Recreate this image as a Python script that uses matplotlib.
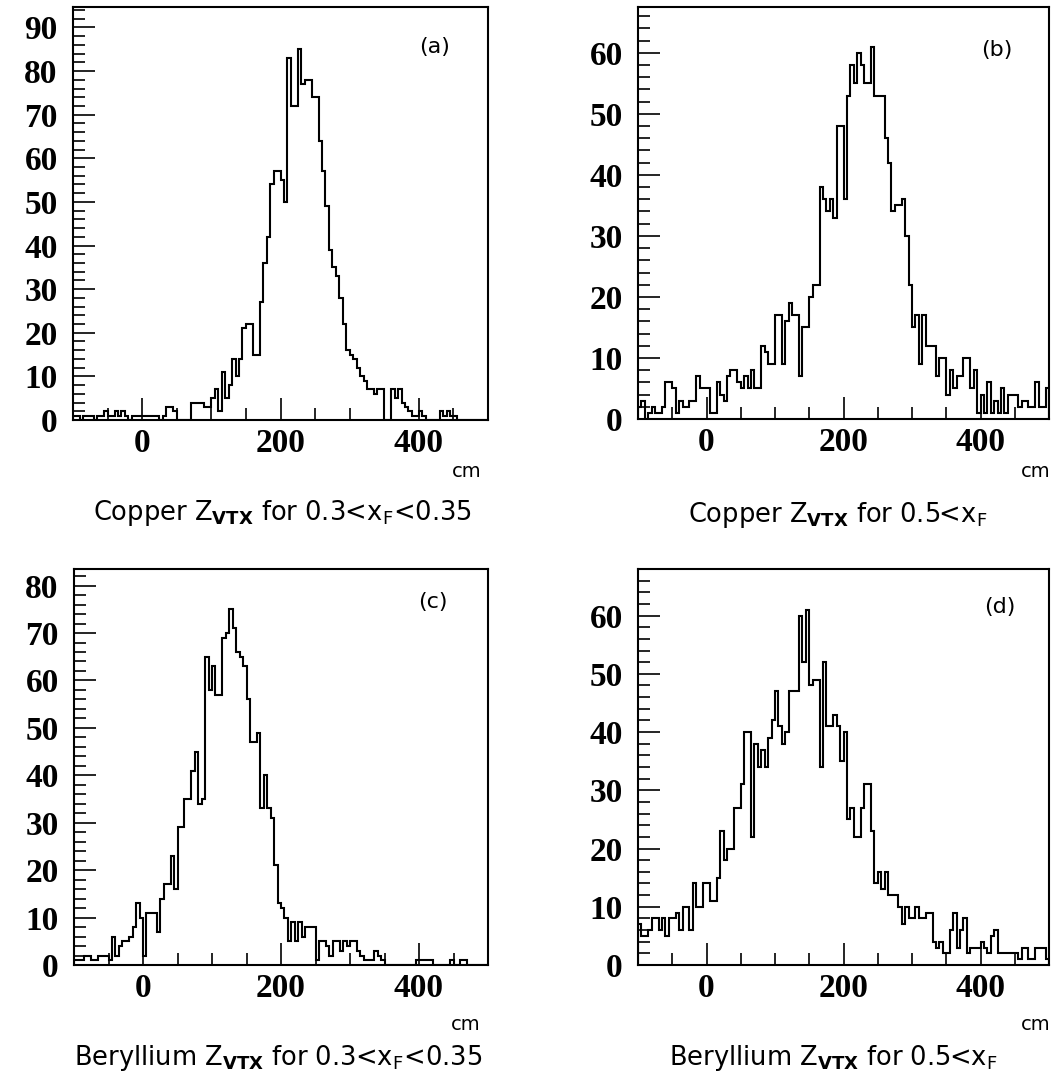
import numpy as np
import matplotlib.pyplot as plt
from matplotlib.ticker import MultipleLocator

plt.rcParams['font.family'] = 'DejaVu Sans'
plt.rcParams['mathtext.fontset'] = 'dejavusans'

# 5 cm bins from -100 to 500 cm
edges = np.arange(-100, 505, 5)

# (a) Copper, 0.3 < xF < 0.35
copper_low = [
    1, 1, 0, 1, 1, 1, 0, 1, 1, 2,
    1, 1, 2, 1, 2, 1, 0, 1, 1, 1,
    1, 1, 1, 1, 1, 0, 1, 3, 3, 2,
    0, 0, 0, 0, 4, 4, 4, 4, 3, 3,
    5, 7, 2, 11, 5, 8, 14, 10, 14, 21,
    22, 22, 15, 15, 27, 36, 42, 54, 57, 57,
    55, 50, 83, 72, 72, 85, 77, 78, 78, 74,
    74, 64, 57, 49, 39, 35, 33, 28, 22, 16,
    15, 14, 12, 10, 9, 7, 7, 6, 7, 7,
    0, 0, 7, 5, 7, 4, 3, 2, 1, 1,
    2, 1, 0, 0, 0, 0, 2, 1, 2, 1,
    1, 0, 0, 0, 0, 0, 0, 0, 0, 0,
]

# (b) Copper, 0.5 < xF
copper_high = [
    2, 3, 0, 1, 2, 1, 1, 2, 6, 6,
    5, 1, 3, 2, 2, 3, 3, 7, 5, 5,
    5, 1, 1, 6, 4, 3, 7, 8, 8, 6,
    5, 7, 5, 8, 5, 5, 12, 11, 9, 9,
    17, 17, 9, 16, 19, 17, 17, 7, 15, 15,
    20, 22, 22, 38, 36, 34, 36, 33, 48, 48,
    36, 53, 58, 55, 60, 58, 55, 55, 61, 53,
    53, 53, 46, 42, 34, 35, 35, 36, 30, 22,
    15, 17, 9, 17, 12, 12, 12, 7, 10, 10,
    4, 8, 5, 7, 7, 10, 10, 5, 8, 1,
    4, 1, 6, 1, 3, 1, 5, 1, 4, 4,
    4, 2, 3, 3, 2, 2, 6, 2, 2, 5,
]

# (c) Beryllium, 0.3 < xF < 0.35
beryl_low = [
    1, 1, 1, 2, 2, 1, 1, 2, 2, 2,
    1, 6, 2, 4, 5, 5, 6, 8, 13, 10,
    2, 11, 11, 11, 7, 14, 17, 17, 23, 16,
    29, 29, 35, 35, 41, 45, 34, 35, 65, 58,
    63, 57, 57, 69, 70, 75, 71, 66, 65, 63,
    56, 47, 47, 49, 33, 40, 33, 31, 21, 13,
    12, 10, 5, 9, 5, 9, 6, 8, 8, 8,
    1, 5, 5, 4, 2, 5, 5, 3, 5, 4,
    5, 5, 3, 2, 1, 1, 1, 3, 2, 1,
    0, 0, 0, 0, 0, 0, 0, 0, 0, 1,
    1, 1, 1, 1, 0, 0, 0, 0, 0, 1,
    0, 0, 1, 1, 0, 0, 0, 0, 0, 0,
]

# (d) Beryllium, 0.5 < xF
beryl_high = [
    7, 5, 5, 6, 8, 8, 6, 8, 5, 8,
    8, 9, 6, 10, 10, 6, 14, 10, 10, 14,
    14, 11, 11, 15, 23, 18, 20, 20, 27, 27,
    31, 40, 40, 22, 38, 34, 37, 34, 39, 42,
    47, 41, 38, 40, 47, 47, 47, 60, 52, 61,
    48, 49, 49, 34, 52, 41, 41, 43, 41, 35,
    40, 25, 27, 22, 22, 27, 31, 31, 23, 14,
    16, 13, 16, 12, 12, 12, 10, 7, 10, 8,
    8, 10, 8, 8, 9, 9, 4, 3, 4, 2,
    2, 6, 9, 3, 6, 8, 2, 3, 3, 3,
    4, 3, 2, 5, 6, 2, 2, 2, 2, 2,
    2, 1, 3, 3, 1, 1, 3, 3, 3, 1,
]

x_ticks = [0, 200, 400]

W, H = 1052, 1082
fig = plt.figure(figsize=(W / 100, H / 100), dpi=100)


def px_axes(l, t, r, b):
    return fig.add_axes([l / W, 1 - b / H, (r - l) / W, (b - t) / H])


panels = [
    # values, ymax, box (l, t, r, b), letter pos, title, title pos, cm pos
    (copper_low, 94.7, (73, 7, 488, 420), (435, 47),
     r'Copper Z$_{\mathbf{VTX}}$ for 0.3<x$_{\mathrm{F}}$<0.35', (282, 513), (467, 471)),
    (copper_high, 67.5, (638, 7, 1049, 419), (997, 50),
     r'Copper Z$_{\mathbf{VTX}}$ for 0.5<x$_{\mathrm{F}}$', (838, 515), (1036, 471)),
    (beryl_low, 83.5, (74, 569, 488, 965), (433, 602),
     r'Beryllium Z$_{\mathbf{VTX}}$ for 0.3<x$_{\mathrm{F}}$<0.35', (278, 1058), (466, 1025)),
    (beryl_high, 68.0, (638, 569, 1049, 965), (1000, 607),
     r'Beryllium Z$_{\mathbf{VTX}}$ for 0.5<x$_{\mathrm{F}}$', (833, 1058), (1036, 1025)),
]
letters = ['(a)', '(b)', '(c)', '(d)']
tick_font = dict(family='Liberation Serif', weight='bold', size=24)

for (vals, ymax, box, lpos, title, tpos, cpos), letter in zip(panels, letters):
    ax = px_axes(*box)
    ax.stairs(vals, edges, color='black', lw=1.5)
    ax.set_xlim(-100, 500)
    ax.set_ylim(0, ymax)
    y_ticks = list(range(0, int(ymax) + 1, 10))
    ax.set_xticks(x_ticks)
    ax.set_xticklabels([str(v) for v in x_ticks], **tick_font)
    ax.set_yticks(y_ticks)
    ax.set_yticklabels([str(v) for v in y_ticks], **tick_font)
    ax.xaxis.set_minor_locator(MultipleLocator(50))
    ax.yaxis.set_minor_locator(MultipleLocator(2))
    ax.tick_params(which='both', direction='in', top=False, right=False, width=1.2)
    ax.tick_params(which='major', length=16)
    ax.tick_params(which='minor', length=8.5)
    ax.tick_params(axis='x', pad=6)
    ax.tick_params(axis='y', pad=11)
    for s in ax.spines.values():
        s.set_linewidth(1.5)

    fig.text(lpos[0] / W, 1 - lpos[1] / H, letter, ha='center', va='center', size=16)
    fig.text(tpos[0] / W, 1 - tpos[1] / H, title, ha='center', va='center', size=18.5)
    fig.text(cpos[0] / W, 1 - cpos[1] / H, 'cm', ha='center', va='center', size=14)

fig.savefig('out.png', dpi=100)
